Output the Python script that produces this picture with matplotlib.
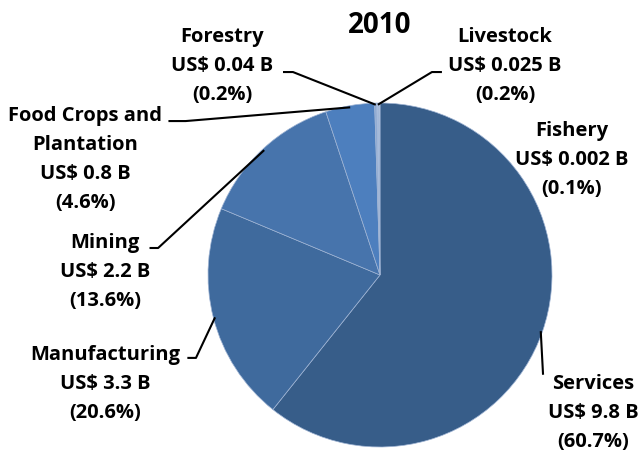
import numpy as np
import matplotlib
matplotlib.use('Agg')
import matplotlib.pyplot as plt

##### DATA #####
sectors = ['Services', 'Manufacturing', 'Mining', 'Food Crops and\nPlantation',
           'Forestry', 'Livestock', 'Fishery']
values_b = ['9.8', '3.3', '2.2', '0.8', '0.04', '0.025', '0.002']
shares = [60.7, 20.6, 13.6, 4.6, 0.2, 0.2, 0.1]
colors = ['#375d89', '#3f6a9d', '#4774ac', '#4d7fbe', '#8eaad3', '#a9bfe0', '#c8d5ea']

plt.rcParams['font.family'] = ['Open Sans', 'DejaVu Sans']

fig = plt.figure(figsize=(6.43, 4.54), dpi=100)
ax = fig.add_axes([0, 0, 1, 1])

wedges, _ = ax.pie(shares, colors=colors, startangle=90, counterclock=False,
                   radius=1.0, wedgeprops=dict(edgecolor='#9fb4d4', linewidth=0.5))

# pixel-matched view: 1 data unit = 172 px, pie centre at (380, 275)
ax.set_xlim(-380 / 172, (643 - 380) / 172)
ax.set_ylim(-(454 - 275) / 172, 275 / 172)
ax.set_aspect('auto')
ax.axis('off')

ax.text(0, 1.453, '2010', ha='center', va='center', fontsize=20, fontweight='bold')

# label layout: text centre, elbow point, line end next to text (None = no leader)
layout = {
    'Services':      ((1.238, -0.802), None, (0.948, -0.58)),
    'Manufacturing': ((-1.599, -0.634), (-1.07, -0.482), (-1.12, -0.482)),
    'Mining':        ((-1.599, 0.017), (-1.29, 0.157), (-1.34, 0.157)),
    'Food Crops and\nPlantation': ((-1.715, 0.669), (-1.13, 0.895), (-1.23, 0.895)),
    'Forestry':      ((-0.919, 1.215), (-0.506, 1.18), (-0.564, 1.18)),
    'Livestock':     ((0.727, 1.215), (0.302, 1.18), (0.36, 1.18)),
    'Fishery':       ((1.116, 0.669), None, None),
}

total = sum(shares)
cum = 0.0
for name, val, pct in zip(sectors, values_b, shares):
    mid = (cum + pct / 2) / total * 2 * np.pi
    cum += pct
    rim = 0.99
    ax_x, ax_y = rim * np.sin(mid), rim * np.cos(mid)
    (tx, ty), elbow, end = layout[name]
    label = f'{name}\nUS$ {val} B\n({pct}%)'
    ax.text(tx, ty, label, ha='center', va='center', fontsize=14.5,
            fontweight='bold', linespacing=1.6)
    if end is not None:
        if elbow is None:
            xs, ys = [ax_x, end[0]], [ax_y, end[1]]
        else:
            xs, ys = [ax_x, elbow[0], end[0]], [ax_y, elbow[1], end[1]]
        ax.plot(xs, ys, color='black', linewidth=1.5, solid_capstyle='butt')

fig.savefig('out.png', dpi=100)
